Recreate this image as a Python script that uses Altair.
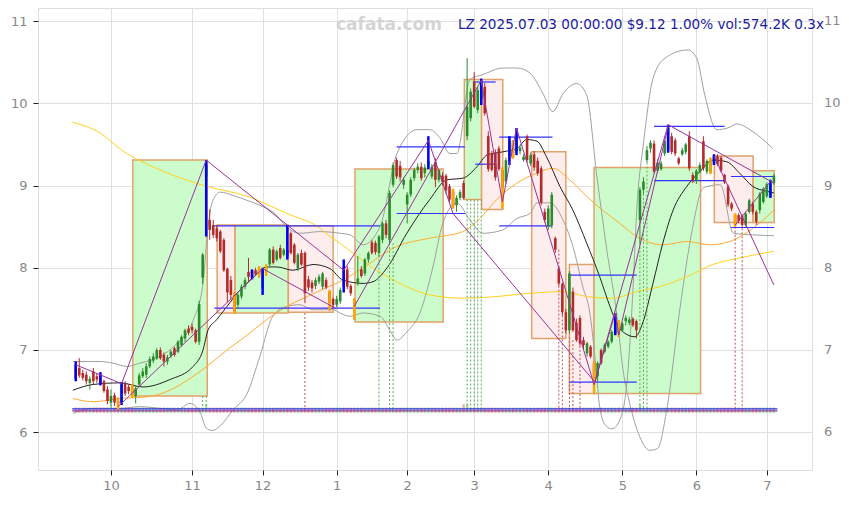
import altair as alt
import pandas as pd

# ---------------- candles (trading-day index 0..198) ----------------
OPEN = [6.82,6.78,6.72,6.70,6.60,6.74,6.68,6.70,6.62,6.52,6.36,6.45,6.38,6.36,6.59,6.55,6.52,6.44,6.58,6.68,
        6.70,6.80,6.87,6.90,7.00,6.94,6.86,6.93,7.02,6.98,7.06,7.14,7.26,7.28,7.24,7.10,7.88,9.11,8.58,8.52,
        8.48,8.44,8.34,7.99,7.85,7.67,7.55,7.65,7.77,7.95,7.96,7.97,7.99,7.75,7.98,8.04,8.22,8.10,8.24,8.16,
        8.22,8.42,8.28,7.99,8.18,8.18,7.86,7.82,7.78,7.83,7.77,7.85,7.71,7.62,7.55,7.59,8.01,7.98,7.78,7.60,
        7.81,7.98,7.93,8.10,8.31,8.30,8.18,8.34,8.54,8.34,9.01,9.31,9.24,9.01,8.77,8.89,9.09,9.19,9.23,9.15,
        9.22,9.11,9.29,9.07,9.12,9.12,8.99,8.93,8.76,8.85,9.03,9.60,9.82,10.27,9.92,10.05,10.20,9.60,9.39,9.40,
        9.45,9.19,9.05,9.30,9.52,9.40,9.42,9.31,9.60,9.27,9.38,9.30,9.21,8.68,8.50,8.52,8.36,7.99,7.80,7.46,
        7.24,7.71,7.33,7.39,7.12,6.96,7.04,6.84,6.68,7.00,6.98,7.04,7.10,7.20,7.34,7.24,7.35,7.33,7.38,7.35,
        8.58,8.95,9.31,9.45,9.51,9.18,9.20,9.39,9.43,9.60,9.55,9.33,9.38,9.41,9.60,9.13,9.06,9.17,9.54,9.17,
        9.16,9.27,9.36,9.34,9.13,8.99,8.78,8.64,8.64,8.63,8.52,8.68,8.78,8.68,8.70,8.80,8.87,8.87,9.03]
HIGH = [6.86,6.90,6.76,6.74,6.68,6.78,6.72,6.73,6.64,6.56,6.52,6.48,6.42,6.61,6.62,6.58,6.58,6.56,6.72,6.78,
        6.84,6.92,6.96,7.02,7.03,6.97,6.94,7.00,7.04,7.12,7.18,7.26,7.30,7.32,7.26,7.60,8.18,9.31,8.71,8.58,
        8.52,8.46,8.36,8.00,7.90,7.70,7.69,7.80,7.88,8.12,7.98,8.00,8.02,8.00,8.04,8.24,8.26,8.22,8.28,8.24,
        8.52,8.44,8.30,8.18,8.22,8.20,7.90,7.85,7.88,7.92,7.95,7.88,7.73,7.64,7.66,7.76,8.10,8.02,7.80,7.63,
        8.14,8.02,8.12,8.20,8.34,8.33,8.40,8.56,8.58,8.94,9.28,9.34,9.30,9.10,8.92,9.10,9.22,9.27,9.28,9.26,
        9.60,9.26,9.33,9.20,9.16,9.14,9.02,8.96,8.88,8.95,9.06,10.55,10.18,10.38,10.20,10.30,10.25,9.66,9.42,9.44,
        9.48,9.22,9.34,9.60,9.55,9.70,9.48,9.38,9.62,9.40,9.42,9.34,9.24,8.72,8.76,8.92,8.38,8.02,7.82,7.50,
        7.96,7.76,7.38,7.42,7.16,7.10,7.06,6.86,6.86,7.02,7.08,7.12,7.24,7.45,7.36,7.34,7.42,7.40,7.40,7.37,
        8.98,9.10,9.48,9.55,9.55,9.32,9.30,9.56,9.74,9.64,9.58,9.35,9.46,9.52,9.66,9.16,9.20,9.28,9.60,9.32,
        9.34,9.38,9.38,9.36,9.14,9.01,8.80,8.66,8.66,8.65,8.68,8.84,8.80,8.70,8.92,8.98,9.04,9.07,9.14]
LOW = [6.62,6.66,6.63,6.58,6.52,6.58,6.60,6.57,6.48,6.34,6.30,6.32,6.28,6.33,6.44,6.46,6.42,6.35,6.56,6.66,
       6.66,6.78,6.84,6.88,6.88,6.80,6.82,6.90,6.92,6.96,7.04,7.10,7.18,7.20,7.08,7.06,7.80,8.38,8.34,8.36,
       8.32,8.18,7.95,7.58,7.62,7.44,7.50,7.62,7.74,7.84,7.86,7.90,7.88,7.67,7.90,8.02,8.04,8.08,8.10,8.14,
       8.10,8.16,8.04,7.96,8.02,7.57,7.72,7.70,7.74,7.80,7.74,7.74,7.48,7.52,7.52,7.56,7.70,7.74,7.66,7.37,
       7.78,7.88,7.90,8.06,8.16,8.16,8.14,8.30,8.36,8.30,8.98,9.08,9.05,8.96,8.54,8.86,9.06,9.15,9.06,9.10,
       9.20,9.08,8.98,9.04,9.00,8.90,8.80,8.72,8.68,8.82,8.83,9.55,9.78,9.94,9.88,9.98,9.85,9.17,9.17,9.06,
       9.18,8.72,9.02,9.25,9.33,9.37,9.38,9.29,9.28,9.24,9.18,9.12,8.76,8.55,8.46,8.48,8.18,7.78,7.42,7.20,
       7.20,7.22,7.10,7.05,7.00,6.92,6.90,6.47,6.62,6.82,6.96,7.02,7.08,7.18,7.16,7.22,7.30,7.30,7.28,7.14,
       8.30,8.90,9.28,9.40,9.15,9.15,9.18,9.36,9.40,9.38,9.36,9.25,9.36,9.38,9.18,9.03,9.02,9.15,9.18,9.14,
       9.14,9.25,9.24,9.16,9.02,8.74,8.69,8.50,8.54,8.48,8.50,8.66,8.65,8.52,8.66,8.78,8.85,8.85,9.01]
CLOSE = [6.65,6.69,6.66,6.62,6.65,6.62,6.64,6.60,6.50,6.38,6.44,6.36,6.34,6.58,6.47,6.50,6.47,6.53,6.69,6.74,
         6.80,6.89,6.92,7.00,6.90,6.86,6.91,6.98,6.94,7.10,7.16,7.24,7.21,7.24,7.10,7.56,8.16,9.25,8.46,8.40,
         8.36,8.20,7.97,7.70,7.67,7.47,7.67,7.77,7.85,7.89,7.90,7.92,7.92,7.98,8.02,8.22,8.06,8.20,8.12,8.22,
         8.14,8.18,8.06,8.16,8.04,7.69,7.76,7.75,7.85,7.89,7.93,7.76,7.57,7.55,7.62,7.73,7.77,7.77,7.69,7.53,
         7.87,7.90,8.10,8.18,8.18,8.19,8.38,8.54,8.40,8.91,9.25,9.11,9.10,9.07,8.89,9.07,9.19,9.23,9.09,9.22,
         9.30,9.23,9.07,9.19,9.05,8.94,8.83,8.75,8.85,8.92,8.85,9.96,10.14,9.96,10.16,10.25,9.88,9.20,9.19,9.10,
         9.20,8.97,9.31,9.55,9.35,9.62,9.46,9.35,9.31,9.37,9.22,9.15,8.79,8.58,8.72,8.89,8.22,7.81,7.46,7.24,
         7.93,7.24,7.12,7.08,7.06,7.08,6.92,6.60,6.84,6.84,7.06,7.10,7.22,7.40,7.20,7.32,7.39,7.37,7.30,7.24,
         8.95,9.05,9.43,9.52,9.17,9.28,9.27,9.54,9.70,9.41,9.39,9.27,9.43,9.50,9.21,9.05,9.18,9.25,9.21,9.30,
         9.31,9.36,9.26,9.18,9.04,8.77,8.72,8.52,8.57,8.52,8.66,8.82,8.68,8.56,8.90,8.96,9.02,9.03,9.12]

TOP_MARKS = [0, 7, 13, 37, 50, 53, 60, 76, 100, 115, 123, 125, 153, 168, 181, 197]
BOTTOM_MARKS = [12, 16, 45, 52, 54, 72, 79, 107, 121, 124, 147, 154, 180, 187]

# ---------------- boxes ----------------
BOX_I1 = [16.2, 40.1, 45.2, 60.3, 79.2, 110.2, 115.1, 129.3, 140.0, 147.0, 181.1, 192.1]
BOX_I2 = [37.3, 45.2, 60.3, 73.0, 104.2, 115.1, 121.1, 139.0, 147.0, 177.2, 192.1, 198.1]
BOX_LO = [6.44, 7.45, 7.45, 7.46, 7.34, 8.83, 8.71, 7.14, 6.47, 6.47, 8.55, 8.55]
BOX_HI = [9.31, 8.52, 8.52, 8.51, 9.20, 10.29, 10.29, 9.41, 8.04, 9.22, 9.36, 9.18]
BOX_KIND = ["up", "down", "up", "down", "up", "up", "down", "down", "down", "up", "down", "up"]

# ---------------- blue horizontal levels ----------------
LVL_I1 = [39.3, 39.3, 91.0, 91.0, 113.3, 113.3, 120.1, 120.1, 140.0, 140.0, 164.0, 164.0, 185.8, 185.8]
LVL_I2 = [86.3, 86.3, 110.4, 110.4, 119.1, 119.1, 135.2, 135.2, 159.1, 159.1, 184.0, 184.0, 198.1, 198.1]
LVL_V = [8.51, 7.51, 9.47, 8.66, 10.26, 9.26, 9.59, 8.51, 7.91, 6.61, 9.72, 9.06, 9.11, 8.49]

# ---------------- purple strokes ----------------
SEG_I1 = [0, 13, 12, 37, 53, 76, 79, 100, 107, 115, 121, 125, 147, 147, 154, 153, 168, 181, 187]
SEG_V1 = [6.82, 6.59, 6.31, 9.31, 7.99, 7.97, 7.53, 9.55, 8.66, 10.28, 8.80, 9.70, 6.58, 6.58, 7.18, 7.45, 9.74, 9.36, 8.52]
SEG_I2 = [13, 37, 53, 76, 74, 100, 115, 107, 147, 121, 125, 147, 153, 168, 168, 154, 198, 198, 197]
SEG_V2 = [6.59, 9.31, 7.99, 7.97, 7.50, 9.55, 10.28, 8.66, 6.62, 8.80, 9.70, 6.58, 7.45, 9.74, 9.72, 7.18, 9.03, 7.79, 9.05]

# ---------------- moving averages / bands ----------------
BLACK_I = [-0.8,4.9,12.6,19.1,26.7,33.3,36.1,37.5,40.0,42.9,46.6,50.3,54.2,57.1,61.6,67.3,72.1,75.8,81.5,84.3,
           88.3,93.9,100.4,105.3,109.8,113.8,116.6,121.1,125.1,127.9,130.8,133.5,137.3,141.0,144.9,148.6,151.5,
           153.5,155.2,158.6,160.8,163.7,166.5,169.4,173.3,177.0,180.7,184.6,188.3,192.0,196.0,198.0]
BLACK_V = [6.51,6.58,6.60,6.55,6.64,6.80,7.00,7.24,7.37,7.53,7.73,7.88,8.01,8.01,7.97,8.04,7.99,7.85,7.81,7.83,
           8.00,8.42,8.83,9.07,9.09,9.23,9.37,9.41,9.45,9.56,9.54,9.35,8.99,8.70,8.30,7.89,7.53,
           7.32,7.22,7.16,7.33,7.81,8.30,8.70,8.99,9.17,9.31,9.29,9.15,8.99,8.93,8.91]
ORANGE_I = [-0.8,4.9,12.6,20.2,26.7,33.3,37.2,42.9,48.6,54.2,59.9,65.6,71.2,74.9,81.5,91.1,100.4,109.8,114.6,
            119.4,125.1,130.8,135.3,140.1,144.9,149.4,154.3,159.1,166.5,173.3,179.8,185.5,192.0,198.0]
ORANGE_V = [6.41,6.37,6.41,6.43,6.51,6.68,6.80,7.00,7.18,7.37,7.53,7.65,7.76,7.83,8.00,8.26,8.36,8.44,8.60,
            8.83,9.03,9.15,9.21,9.07,8.87,8.70,8.54,8.38,8.28,8.32,8.28,8.32,8.48,8.70]
YELLOW_I = [-1.0,6.9,13.1,23.9,37.2,48.6,59.9,69.3,72.1,74.9,79.8,84.6,93.9,100.4,109.8,119.4,128.8,138.2,144.9,
            152.3,159.1,165.6,173.3,180.7,188.3,198.0]
YELLOW_V = [9.77,9.64,9.43,9.19,8.99,8.87,8.66,8.48,8.38,8.30,8.14,7.99,7.77,7.67,7.63,7.65,7.69,7.71,7.65,
            7.63,7.71,7.77,7.89,8.04,8.12,8.20]
BAND1_I = [-0.8,6.9,10.6,14.5,18.2,23.9,28.7,33.3,36.1,37.5,38.9,41.0,44.6,48.6,52.2,55.9,60.8,63.6,69.3,74.9,
           77.8,81.5,86.3,91.1,96.8,100.4,103.3,106.1,108.1,111.8,115.5,121.1,125.1,128.8,132.5,135.3,138.2,
           142.1,144.9,147.8,150.6,153.5,155.2,157.1,159.9,162.8,165.0,167.6,171.3,175.0,177.6,179.0,182.8,
           186.5,192.0,198.0]
BAND1_V = [6.86,6.86,6.84,6.80,6.84,6.92,7.08,7.36,7.81,8.50,8.82,8.92,8.88,8.82,8.76,8.68,8.46,8.42,8.44,8.42,
           8.40,8.28,8.50,9.39,9.68,9.68,9.58,9.39,9.39,10.29,10.35,10.43,10.43,10.37,10.12,9.90,10.12,
           10.24,10.10,9.11,8.22,7.41,6.76,6.35,5.95,5.78,5.80,6.27,7.49,8.50,8.95,8.99,9.01,
           8.42,8.40,8.39]
BAND2_I = [-0.8,4.9,12.6,18.2,23.9,28.7,32.4,35.2,37.0,38.7,41.0,44.6,48.6,52.2,55.9,59.9,63.6,67.3,73.0,74.9,
           77.8,81.5,86.3,89.1,91.1,93.9,97.6,101.3,104.1,108.1,111.8,115.5,121.1,125.1,128.8,130.8,134.5,
           138.2,141.0,143.8,145.8,147.5,148.6,150.3,152.1,154.3,156.3,158.0,159.1,161.0,163.7,167.1,173.6,
           176.1,178.4,181.8,184.9,187.7,191.2,197.7]
BAND2_V = [6.23,6.29,6.29,6.31,6.29,6.27,6.35,6.25,6.05,6.02,6.08,6.27,6.47,6.92,7.41,7.53,7.55,7.49,7.49,7.45,
           7.41,7.45,7.41,7.24,7.12,7.22,7.45,8.01,8.54,8.79,8.58,8.42,8.46,8.60,8.66,8.79,8.79,
           8.58,8.26,7.77,7.45,6.80,6.30,6.08,6.04,6.15,6.60,7.71,8.70,9.51,10.30,10.55,10.65,
           10.55,10.10,9.68,9.70,9.75,9.68,9.45]

# ---------------- dotted markers ----------------
GDOT_I = [36, 37, 86, 89, 90, 111, 112, 113, 114, 115, 160, 161, 162]
GDOT_TOP = [6.44, 6.44, 8.15, 8.30, 8.30, 8.83, 8.83, 8.83, 8.83, 8.83, 8.30, 8.90, 9.28]
RDOT_I = [65, 137, 138, 140, 141, 143, 187, 189]
RDOT_TOP = [7.45, 8.22, 7.81, 7.16, 7.12, 7.05, 8.50, 8.48]
BASE_V = 6.27
STRIP_LO, STRIP_HI = 6.235, 6.30
BIG_STRIP = [37, 110, 111, 160]
STRIP_LINE_BLUE, STRIP_LINE_PURPLE = 6.283, 6.259

MONTH_TICKS = [10, 33, 53, 74, 94, 113, 134, 155, 176, 196]
MONTH_LABELS = ["10", "11", "12", "1", "2", "3", "4", "5", "6", "7"]
Y_TICKS = [6, 7, 8, 9, 10, 11]

WATERMARK = "cafata.com"
HEADER = "LZ 2025.07.03 00:00:00 $9.12 1.00% vol:574.2K 0.3x"

# ---------------- build ----------------
W, H = 774, 462
FONT = "DejaVu Sans"
GREEN, RED = "#2b8a2b", "#b32a2a"

xs = alt.Scale(domain=[-10.7, 208.8], nice=False, zero=False, padding=0)
ys = alt.Scale(domain=[5.54, 11.16], nice=False, zero=False, padding=0)

expr = "".join(f"datum.value == {t} ? '{l}' : " for t, l in zip(MONTH_TICKS, MONTH_LABELS)) + "''"
XA = alt.Axis(values=MONTH_TICKS, labelExpr=expr, grid=True, gridColor="#e0e0e0", domain=False,
              tickColor="#222222", tickSize=5, labelColor="#888888", labelFontSize=13,
              labelPadding=4, labelFont=FONT, title=None)
YA = alt.Axis(values=Y_TICKS, grid=True, gridColor="#e0e0e0", domain=False, tickColor="#222222",
              tickSize=5, labelColor="#888888", labelFontSize=13, labelPadding=6, labelFont=FONT,
              minExtent=30, maxExtent=30, title=None)


def X(f):
    return alt.X(f, scale=xs, axis=XA, title=None)


def Y(f):
    return alt.Y(f, scale=ys, axis=YA, title=None)


n = len(CLOSE)
candles = pd.DataFrame({"i": list(range(n)), "o": OPEN, "h": HIGH, "l": LOW, "c": CLOSE})
candles["dir"] = ["up" if c >= o else "down" for o, c in zip(OPEN, CLOSE)]
candles["slo"] = STRIP_LO
candles["shi"] = [STRIP_HI + (0.04 if k in BIG_STRIP else 0) for k in range(n)]
dcol = alt.Color("dir:N", scale=alt.Scale(domain=["up", "down"], range=[GREEN, RED]), legend=None)
scol = alt.Color("dir:N", scale=alt.Scale(domain=["up", "down"], range=["#6cbf6c", "#d07a7a"]), legend=None)

marks = pd.DataFrame({"i": TOP_MARKS + BOTTOM_MARKS,
                      "kind": ["top"] * len(TOP_MARKS) + ["bottom"] * len(BOTTOM_MARKS)})
marks["l"] = [LOW[k] for k in marks["i"]]
marks["h"] = [HIGH[k] for k in marks["i"]]

boxes = pd.DataFrame({"i1": BOX_I1, "i2": BOX_I2, "lo": BOX_LO, "hi": BOX_HI, "kind": BOX_KIND})
levels = pd.DataFrame({"i1": LVL_I1, "i2": LVL_I2, "v": LVL_V})
segs = pd.DataFrame({"i1": SEG_I1, "v1": SEG_V1, "i2": SEG_I2, "v2": SEG_V2})

lines = []
for name, I, V in [("band1", BAND1_I, BAND1_V), ("band2", BAND2_I, BAND2_V), ("yellow", YELLOW_I, YELLOW_V),
                   ("orange", ORANGE_I, ORANGE_V), ("black", BLACK_I, BLACK_V)]:
    for k, (a, b) in enumerate(zip(I, V)):
        lines.append({"s": name, "i": a, "v": b, "k": k})
lines = pd.DataFrame(lines)

dots = pd.DataFrame({"i": GDOT_I + RDOT_I, "top": GDOT_TOP + RDOT_TOP,
                     "kind": ["g"] * len(GDOT_I) + ["r"] * len(RDOT_I)})
dots["bot"] = BASE_V

strip_lines = pd.DataFrame({"i1": [-1, -1], "i2": [199, 199], "v": [STRIP_LINE_PURPLE, STRIP_LINE_BLUE],
                            "s": ["p", "b"]})
ylab = pd.DataFrame({"v": Y_TICKS, "t": [str(v) for v in Y_TICKS]})

base = alt.Chart(candles)

box_layer = alt.Chart(boxes).mark_rect(stroke="#e2a26a", strokeWidth=1.5).encode(
    x=X("i1:Q"), x2="i2:Q", y=Y("lo:Q"), y2="hi:Q",
    fill=alt.Fill("kind:N", scale=alt.Scale(domain=["up", "down"], range=["#ccfccc", "#fdeded"]), legend=None))

line_layer = alt.Chart(lines).mark_line(strokeWidth=1, interpolate="monotone").encode(
    x=X("i:Q"), y=Y("v:Q"),
    color=alt.Color("s:N", scale=alt.Scale(domain=["band1", "band2", "yellow", "orange", "black"],
                                           range=["#a0a0a0", "#a0a0a0", "#ffd21a", "#ffab30", "#222222"]),
                    legend=None),
    detail="s:N", order="k:Q")

dot_layer = alt.Chart(dots).mark_rule(strokeDash=[2, 2], strokeWidth=1).encode(
    x=X("i:Q"), y=Y("top:Q"), y2="bot:Q",
    color=alt.Color("kind:N", scale=alt.Scale(domain=["g", "r"], range=["#55aa55", "#c05050"]), legend=None))

strip_bars = base.mark_bar(size=2.4, opacity=0.6).encode(
    x=X("i:Q"), y=Y("slo:Q"), y2="shi:Q", color=scol)

strip_rules = alt.Chart(strip_lines).mark_rule(strokeWidth=1.3).encode(
    x=X("i1:Q"), x2="i2:Q", y=Y("v:Q"),
    color=alt.Color("s:N", scale=alt.Scale(domain=["p", "b"], range=["#8a3a9a", "#3030e0"]), legend=None))

level_layer = alt.Chart(levels).mark_rule(strokeWidth=1.2, color="#3333ff").encode(
    x=X("i1:Q"), x2="i2:Q", y=Y("v:Q"))

wick_layer = base.mark_rule(strokeWidth=1).encode(x=X("i:Q"), y=Y("l:Q"), y2="h:Q", color=dcol)
body_layer = base.mark_bar(size=2.6).encode(x=X("i:Q"), y=Y("o:Q"), y2="c:Q", color=dcol)

mark_layer = alt.Chart(marks).mark_rule(strokeWidth=2.5).encode(
    x=X("i:Q"), y=Y("l:Q"), y2="h:Q",
    color=alt.Color("kind:N", scale=alt.Scale(domain=["top", "bottom"], range=["#0000ff", "#ffa500"]),
                    legend=None))

seg_layer = alt.Chart(segs).mark_rule(strokeWidth=1, color="#993399").encode(
    x=X("i1:Q"), x2="i2:Q", y=Y("v1:Q"), y2="v2:Q")

right_labels = alt.Chart(ylab).mark_text(align="left", baseline="middle", fontSize=13, color="#888888",
                                          font=FONT).encode(
    x=alt.value(W + 12), y=Y("v:Q"), text="t:N")

wm = alt.Chart(pd.DataFrame({"t": [WATERMARK]})).mark_text(
    align="center", baseline="middle", fontSize=17, fontWeight="bold", color="#d4d4d4", font=FONT).encode(
    x=alt.value(351), y=alt.value(17), text="t:N")
hdr = alt.Chart(pd.DataFrame({"t": [HEADER]})).mark_text(
    align="right", baseline="middle", fontSize=13.6, color="#1c1ca0", font=FONT).encode(
    x=alt.value(786), y=alt.value(17), text="t:N")

chart = alt.layer(
    box_layer, line_layer, dot_layer, strip_bars, strip_rules, level_layer,
    wick_layer, body_layer, mark_layer, seg_layer, right_labels, wm, hdr
).resolve_scale(color="independent", fill="independent").properties(
    width=W, height=H, padding={"left": 0, "top": 0, "right": 0, "bottom": 0}
).configure_view(stroke=None).configure(background="white")

chart.save("out.html", embed_options={"renderer": "svg", "actions": False})
